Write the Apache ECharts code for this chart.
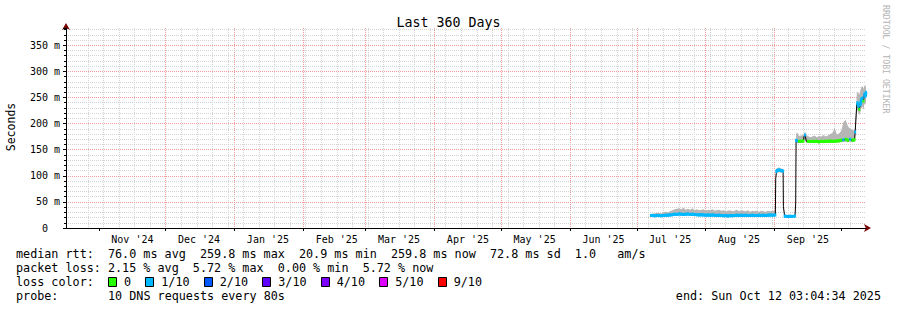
<!DOCTYPE html>
<html><head><meta charset="utf-8">
<script src="https://cdn.jsdelivr.net/npm/echarts@6/dist/echarts.min.js"></script>
<style>html,body{margin:0;padding:0;background:#fff}#c{width:897px;height:310px}</style>
</head><body><div id="c"></div>
<script>
// ---------- data ----------
const START = '2024-10-17 03:04:34';
const END = '2025-10-12 03:04:34';
const FIRST_WEEK_LINE = '2024-10-20 00:00';
const monthStarts = ['2024-11-01','2024-12-01','2025-01-01','2025-02-01','2025-03-01','2025-04-01','2025-05-01','2025-06-01','2025-07-01','2025-08-01','2025-09-01','2025-10-01'];
const monthLabelAt = ['2024-11-16','2024-12-16','2025-01-16','2025-02-16','2025-03-16','2025-04-16','2025-05-16','2025-06-16','2025-07-16','2025-08-16','2025-09-16'];
const monthNames = ['Jan','Feb','Mar','Apr','May','Jun','Jul','Aug','Sep','Oct','Nov','Dec'];
const yTicks = [0,50,100,150,200,250,300,350];

const times = [
'2025-07-07 09:00','2025-07-08','2025-07-09','2025-07-10','2025-07-11','2025-07-12','2025-07-13','2025-07-14','2025-07-15','2025-07-16',
'2025-07-17','2025-07-18','2025-07-19','2025-07-20','2025-07-21','2025-07-22','2025-07-23','2025-07-24','2025-07-25','2025-07-26',
'2025-07-27','2025-07-28','2025-07-29','2025-07-30','2025-07-31','2025-08-01','2025-08-02','2025-08-03','2025-08-04','2025-08-05',
'2025-08-06','2025-08-07','2025-08-08','2025-08-09','2025-08-10','2025-08-11','2025-08-12','2025-08-13','2025-08-14','2025-08-15',
'2025-08-16','2025-08-17','2025-08-18','2025-08-19','2025-08-20','2025-08-21','2025-08-22','2025-08-23','2025-08-24','2025-08-25',
'2025-08-26','2025-08-27','2025-08-28','2025-08-29','2025-08-30','2025-08-31','2025-09-01 08:00',
'2025-09-01 12:00','2025-09-01 20:00','2025-09-02','2025-09-03','2025-09-04','2025-09-04 20:00','2025-09-04 23:00',
'2025-09-05 12:00','2025-09-06','2025-09-07','2025-09-08','2025-09-09','2025-09-10 04:00','2025-09-10 12:00',
'2025-09-10 16:00','2025-09-11','2025-09-12','2025-09-13','2025-09-14','2025-09-14 06:00','2025-09-14 18:00','2025-09-15 06:00',
'2025-09-16','2025-09-17','2025-09-18','2025-09-19','2025-09-20','2025-09-21','2025-09-22','2025-09-23','2025-09-24','2025-09-25',
'2025-09-26','2025-09-27','2025-09-28','2025-09-29','2025-09-30','2025-10-01','2025-10-02','2025-10-03','2025-10-04','2025-10-05',
'2025-10-06','2025-10-07','2025-10-07 06:00','2025-10-08','2025-10-08 06:00','2025-10-08 18:00','2025-10-09 02:00','2025-10-09 14:00',
'2025-10-10 02:00','2025-10-10 14:00','2025-10-11','2025-10-11 10:00','2025-10-11 20:00','2025-10-12 03:00'
];
// median rtt in ms
const medianMs = [
24,24,23.5,24,24,23.5,24,24.5,24.5,25,
25.5,26.5,26,27,26.5,26,26.5,27,26,26.5,
26,25.5,25,25.5,25,24.5,25,24.5,25,24.5,
24,24.5,24,23.5,24,23,24,23.5,24,24.5,
24,24.5,24,24.5,24,24,24.5,24,24,24.5,
24,24.5,24,24.5,25,24.5,25,
95,108,110,111,110,109,41,
23,22.5,22,22.5,22,23,48,
168,167,166,166,166.5,176,178,166,
166,165.5,166,165.5,166,165,166,165.5,166,166,
166.5,166,166,166.5,167,168,169,170,168,170,
168,169,184,238,240,233,227,236,
247,249,243,257,252,259.8
];
// smoke range (min / max of the pings) in ms
const smokeLowMs = [
22,22,22,22,22.5,22,22,22.5,22.5,23,
23.5,24,24,24.5,24,24,24,24.5,24,24,
23.5,23.5,23,23,23,22.5,23,22.5,23,22.5,
22,22.5,22,21.5,22,21,22,21.5,22,22.5,
22,22.5,22,22.5,22,22,22.5,22,22,22.5,
22,22.5,22,22.5,23,22.5,23,
88,104,106,107,106,105,36,
21.5,21,20.9,21,21,21.5,42,
163,163,163,163,163,168,170,163,
163,163,163,163,163,162.5,163,163,163,163,
163,163,163,163.5,164,164,164.5,165,164,165,
164,165,176,224,226,220,216,222,
230,232,226,238,236,242
];
const smokeHighMs = [
27,28,28,29,29,28,30,31,30,32,
34,36,37,38,36,39,35,37,35,38,
34,36,34,35,36,33,35,34,36,33,
34,35,33,34,32,33,34,32,33,35,
32,34,33,32,34,31,33,32,33,31,
33,32,31,33,32,33,32,
100,113,115,116,114,113,48,
25,25,24,25,24,26,56,
178,184,176,177,178,182,184,178,
176,174,175,177,174,176,175,178,175,177,
180,182,192,179,181,186,203,207,195,190,
188,186,194,258,260,258,255,264,
270,272,266,274,270,276
];
// loss class per point: index into lossColors (0 = 0, 1 = 1/10), null = no coloured median
const lossClass = [
1,1,1,1,1,1,1,1,1,1,
1,1,1,1,1,1,1,1,1,1,
1,1,1,1,1,1,1,1,1,1,
1,1,1,1,1,1,1,1,1,1,
1,1,1,1,1,1,1,1,1,1,
1,1,1,1,1,1,1,
null,1,1,1,1,1,null,
1,1,1,1,1,1,null,
1,1,0,0,0,null,1,null,
0,0,0,0,0,0,0,0,0,0,
0,0,0,0,0,0,1,0,0,1,
0,0,1,null,1,1,0,1,
1,1,0,1,1,1
];
const lossLabels = ['0','1/10','2/10','3/10','4/10','5/10','9/10'];
const lossColors = ['#26ff00','#00b8ff','#0059ff','#5e00ff','#7e00ff','#dd00ff','#ff0000'];

const titleText = 'Last 360 Days';
const yName = 'Seconds';
const rttStats = ['76.0 ms avg','259.8 ms max','20.9 ms min','259.8 ms now','72.8 ms sd','1.0   am/s'];
const lossStats = ['2.15 % avg','5.72 % max','0.00 % min','5.72 % now'];
const probeText = '10 DNS requests every 80s';
const endText = 'end: Sun Oct 12 03:04:34 2025';
const watermark = 'RRDTOOL / TOBI OETIKER';

// ---------- helpers ----------
function ts(s){
  const p = s.split(' ');
  const d = p[0].split('-').map(Number);
  let hh=0, mm=0, ss=0;
  if (p[1]) { const t = p[1].split(':').map(Number); hh=t[0]; mm=t[1]||0; ss=t[2]||0; }
  return Date.UTC(d[0], d[1]-1, d[2], hh, mm, ss);
}
const nb = s => s.replace(/ /g, '\u00a0');
const FONT = '"DejaVu Sans Mono", monospace';
const tMin = ts(START), tMax = ts(END);
const tArr = times.map(ts);
const DAY = 86400000;
const MINOR_GRID = '#d4d4d4', MAJOR_GRID = '#f19a9a';

const monthLines = monthStarts.map(ts);
const weekLines = [];
for (let t = ts(FIRST_WEEK_LINE); t <= tMax; t += 7*DAY) {
  if (!monthLines.some(m => Math.abs(m - t) < DAY/2)) weekLines.push(t);
}

// series
const series = [];
series.push({
  type: 'line', stack: 'smoke', z: 2, silent: true, symbol: 'none',
  lineStyle: { width: 0, opacity: 0 },
  data: tArr.map((t,i) => [t, smokeLowMs[i]])
});
series.push({
  type: 'line', stack: 'smoke', z: 2, silent: true, symbol: 'none',
  lineStyle: { width: 0, opacity: 0 },
  areaStyle: { color: '#b6b6b6', opacity: 1 },
  data: tArr.map((t,i) => [t, smokeHighMs[i] - smokeLowMs[i]])
});
series.push({
  type: 'line', z: 3, silent: true, symbol: 'none',
  lineStyle: { width: 1, color: '#000' },
  data: tArr.map((t,i) => [t, medianMs[i]])
});
lossColors.forEach((c, k) => {
  if (!lossClass.includes(k)) return;
  series.push({
    type: 'line', z: 4, silent: true, symbol: 'rect', symbolSize: [2,3], showSymbol: true,
    connectNulls: false,
    itemStyle: { color: c }, lineStyle: { width: 3, color: c },
    data: tArr.map((t,i) => [t, lossClass[i] === k ? medianMs[i] : null])
  });
});

// legend graphics
const CW = 7.08, LX = 16;
const g = [];
function txt(s, x, y, extra){ g.push(Object.assign({ type: 'text', x: x, y: y, silent: true,
  style: { text: nb(s), fontFamily: FONT, fontSize: 11.75, fill: '#000', textVerticalAlign: 'middle' } }, extra||{})); }
txt('median rtt:  ' + rttStats.join('  '), LX, 254);
txt('packet loss: ' + lossStats.join('  '), LX, 268);
txt('loss color:', LX, 282);
let cx = LX + 13*CW;
lossLabels.forEach((l, k) => {
  g.push({ type: 'rect', silent: true, shape: { x: Math.round(cx)+0.5, y: 277.5, width: 8, height: 9 },
           style: { fill: lossColors[k], stroke: '#000', lineWidth: 1 } });
  const lx = cx + 16;
  txt(l, lx, 282);
  cx = lx + (l.length + 2)*CW;
});
txt('probe:', LX, 296);
txt(probeText, LX + 13*CW, 296);
g.push({ type: 'text', x: 881, y: 296, silent: true,
  style: { text: nb(endText), fontFamily: FONT, fontSize: 11.75, fill: '#000', textAlign: 'right', textVerticalAlign: 'middle' } });
g.push({ type: 'text', x: 886, y: 5, rotation: -Math.PI/2, silent: true,
  style: { text: nb(watermark), fontFamily: FONT, fontSize: 8.2, fill: '#b4b4b4', textVerticalAlign: 'middle' } });
g.push({ type: 'text', x: 11, y: 127, rotation: Math.PI/2, silent: true,
  style: { text: yName, fontFamily: FONT, fontSize: 11.5, fill: '#000', textAlign: 'center', textVerticalAlign: 'middle' } });

function gridAxis(values, color){
  return { type: 'value', min: tMin, max: tMax, position: 'bottom', z: 0,
    axisLine: { show: false }, axisLabel: { show: false },
    axisTick: { show: false, customValues: values },
    splitLine: { show: true, showMinLine: false, showMaxLine: false, lineStyle: { color: color, type: [1,1], width: 1 } } };
}

const chart = echarts.init(document.getElementById('c'), null, { renderer: 'svg' });
chart.setOption({
  animation: false,
  backgroundColor: '#fff',
  textStyle: { fontFamily: FONT },
  title: { text: titleText, left: 'center', top: 11,
           textStyle: { fontFamily: FONT, fontSize: 13.3, fontWeight: 'normal', color: '#000' } },
  grid: { left: 66, right: 31, top: 28, bottom: 82, containLabel: false },
  xAxis: [
    { type: 'time', min: tMin, max: tMax, position: 'bottom', z: 1,
      axisLine: { show: true, lineStyle: { color: '#000', width: 1 } },
      axisTick: { show: false }, axisLabel: { show: false }, splitLine: { show: false } },
    { type: 'time', min: tMin, max: tMax, position: 'bottom', z: 0,
      axisLine: { show: true, symbol: ['none','arrow'], symbolSize: [6,7], symbolOffset: [0,5],
                  lineStyle: { color: '#7a0000', width: 1 } },
      axisTick: { show: false }, axisLabel: { show: false }, splitLine: { show: false } },
    gridAxis(weekLines, MINOR_GRID),
    gridAxis(monthLines, MAJOR_GRID),
    { type: 'value', min: tMin, max: tMax, position: 'bottom', z: 1,
      axisLine: { show: false },
      axisTick: { show: true, length: 3, customValues: monthLines, lineStyle: { color: '#000' } },
      splitLine: { show: false },
      axisLabel: { show: true, customValues: monthLabelAt.map(ts), margin: 6, color: '#000',
                   fontFamily: FONT, fontSize: 10, hideOverlap: false,
                   formatter: v => { const d = new Date(v); return nb(monthNames[d.getUTCMonth()] + " '" + String(d.getUTCFullYear()).slice(2)); } } }
  ],
  yAxis: [
    { type: 'value', min: 0, max: 383, interval: 50, position: 'left', z: 1,
      axisLine: { show: true, lineStyle: { color: '#000', width: 1 } },
      axisTick: { show: true, length: 3, lineStyle: { color: '#000' } },
      minorTick: { show: true, splitNumber: 5, length: 2, lineStyle: { color: '#000' } },
      axisLabel: { margin: 6, color: '#000', fontFamily: FONT, fontSize: 10, showMaxLabel: false,
                   formatter: v => yTicks.includes(v) ? (v === 0 ? nb('0  ') : nb(v + ' m')) : '' },
      splitLine: { show: true, showMinLine: false, showMaxLine: false, lineStyle: { color: MAJOR_GRID, type: [1,1], width: 1 } },
      minorSplitLine: { show: true, lineStyle: { color: MINOR_GRID, type: [1,1], width: 1 } } },
    { type: 'value', min: 0, max: 383, position: 'left', z: 0,
      axisLine: { show: true, symbol: ['none','arrow'], symbolSize: [6,7], symbolOffset: [0,5],
                  lineStyle: { color: '#7a0000', width: 1 } },
      axisTick: { show: false }, axisLabel: { show: false }, splitLine: { show: false } }
  ],
  graphic: g,
  series: series
});
</script></body></html>
